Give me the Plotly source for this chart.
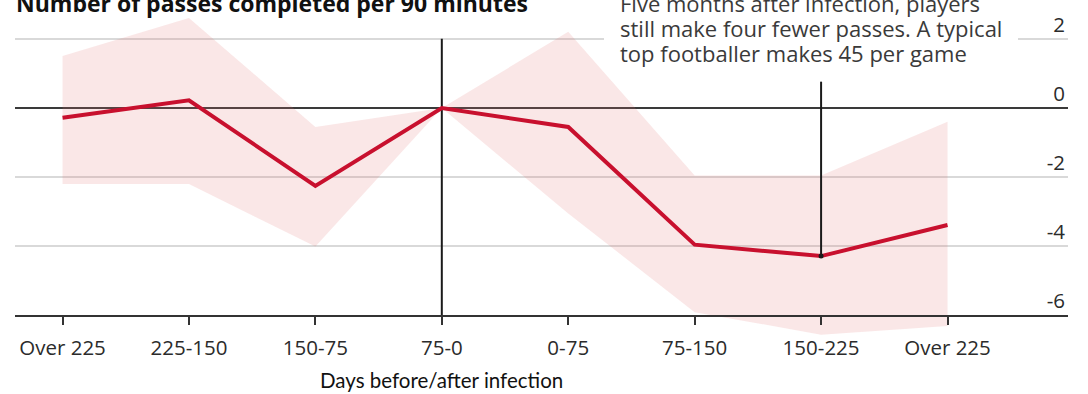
import plotly.graph_objects as go

categories = ["Over 225", "225-150", "150-75", "75-0", "0-75", "75-150", "150-225", "Over 225"]
passes = [-0.28, 0.22, -2.25, 0.0, -0.55, -3.95, -4.28, -3.38]
upper = [1.5, 2.6, -0.55, 0.0, 2.2, -1.95, -1.95, -0.4]
lower = [-2.2, -2.2, -4.0, 0.0, -3.05, -5.9, -6.55, -6.3]
y_ticks = [2, 0, -2, -4, -6]
y_tick_labels = ["2", "0", "-2", "-4", "-6"]
infection_idx = 3
callout_idx = 6
callout_top = 0.76

title = "Number of passes completed per 90 minutes"
note_lines = ["Five months after infection, players",
              "still make four fewer passes. A typical",
              "top footballer makes 45 per game"]
x_title = "Days before/after infection"

OPEN = "'Open Sans', 'Noto Sans', sans-serif"
LATO = "Lato, 'Open Sans', sans-serif"
RED = "#c8102e"
DARK = "#2b2b2b"

W, H = 1088, 394
ML, MR, MT, MB = 15, 20, 0, 54
PH = H - MT - MB

x = list(range(len(categories)))
ymin, ymax = -6.705, 3.12

fig = go.Figure()
fig.add_trace(go.Scatter(
    x=x + x[::-1], y=upper + lower[::-1], fill="toself",
    fillcolor="rgba(225,110,110,0.17)", line=dict(width=0), mode="lines",
    hoverinfo="skip", showlegend=False))
fig.add_trace(go.Scatter(
    x=[x[infection_idx], x[infection_idx]], y=[max(y_ticks), min(y_ticks)],
    mode="lines", line=dict(color="#1a1a1a", width=2), showlegend=False))
fig.add_trace(go.Scatter(
    x=[x[callout_idx], x[callout_idx]], y=[callout_top, passes[callout_idx]],
    mode="lines", line=dict(color="#1a1a1a", width=2), showlegend=False))
fig.add_trace(go.Scatter(
    x=x, y=passes, mode="lines", line=dict(color=RED, width=4),
    showlegend=False))
fig.add_trace(go.Scatter(
    x=[x[callout_idx]], y=[passes[callout_idx]], mode="markers",
    marker=dict(color="#1a1a1a", size=5), showlegend=False))

axis_pos = (min(y_ticks) - ymin) / (ymax - ymin)

fig.update_layout(
    width=W, height=H,
    margin=dict(l=ML, r=MR, t=MT, b=MB, autoexpand=False),
    paper_bgcolor="white", plot_bgcolor="white",
    font=dict(family=OPEN, size=20, color=DARK),
    xaxis=dict(
        range=[-0.376, 7.953], tickvals=x, ticktext=categories,
        anchor="free", position=axis_pos,
        showgrid=False, zeroline=False,
        showline=True, linecolor="#333333", linewidth=2,
        ticks="outside", ticklen=8, tickwidth=2, tickcolor="#333333",
        ticklabelstandoff=6,
        tickfont=dict(size=20.5, color=DARK, family=OPEN),
    ),
    yaxis=dict(
        range=[ymin, ymax], tickvals=y_ticks, ticktext=y_tick_labels,
        side="right", ticklabelposition="inside top",
        showgrid=True, gridcolor="#d9d9d9", gridwidth=1.5,
        zeroline=True, zerolinecolor="#3a3a3a", zerolinewidth=2,
        ticks="", tickfont=dict(size=20.5, color=DARK, family=OPEN),
    ),
)

def py(px):
    return 1 - (px - MT) / PH

fig.add_annotation(
    xref="paper", yref="paper", x=0.0, y=py(3), xanchor="left", yanchor="middle",
    xshift=-1,
    text="<b>" + title + "</b>", showarrow=False,
    font=dict(size=23, color="#111111", family=OPEN), align="left")

# x-axis title, centred under the infection category
fig.add_annotation(
    xref="x", yref="paper", x=x[infection_idx], y=py(380),
    xanchor="center", yanchor="middle", text=x_title, showarrow=False,
    font=dict(size=20.5, color="#111111", family=LATO))

pad = 16
note_x = (620 - pad - ML) / (W - ML - MR)
centers = [3, 28, 53]
order = [1, 0, 2]
for i in order:
    fig.add_annotation(
        xref="paper", yref="paper", x=note_x, y=py(centers[i]),
        xanchor="left", yanchor="middle",
        text=note_lines[i], showarrow=False, align="left",
        bgcolor="white" if i == 1 else "rgba(0,0,0,0)",
        borderpad=pad, borderwidth=0,
        font=dict(size=22, color="#3a3a3a", family=OPEN))

fig.write_html("out.html", config={"displayModeBar": False},
               post_script="document.body.style.margin='0';")
